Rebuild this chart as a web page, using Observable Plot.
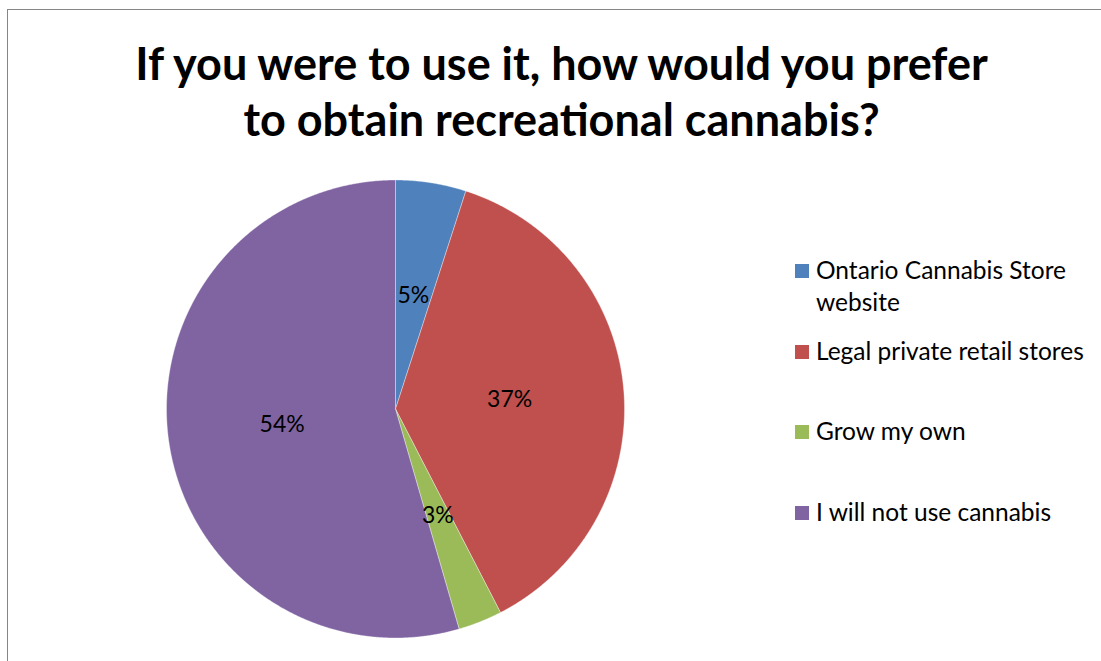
<!DOCTYPE html>
<html><head><meta charset="utf-8">
<script src="https://cdn.jsdelivr.net/npm/d3@7"></script>
<script src="https://cdn.jsdelivr.net/npm/@observablehq/plot@0.6"></script>
<style>
body{margin:0;background:#fff;}
#wrap{position:relative;width:1101px;height:661px;overflow:hidden;font-family:Lato,"Open Sans",sans-serif;color:#000;}
#frame{position:absolute;left:7px;top:9px;width:1200px;height:800px;border-top:1px solid #868686;border-left:1px solid #868686;}
#chart{position:absolute;left:0;top:0;}
#title{position:absolute;left:0;width:1123px;top:35px;text-align:center;font-weight:bold;font-size:45px;line-height:56px;}
.item{position:absolute;left:795px;}
.sw{position:absolute;left:0;top:0;width:14px;height:14px;}
.lt{position:absolute;left:21px;top:-10px;width:285px;font-size:24.5px;line-height:32px;}
</style></head>
<body>
<div id="wrap">
  <div id="frame"></div>
  <div id="chart"></div>
  <div id="title">If you were to use it, how would you prefer<br>to obtain recreational cannabis?</div>
  <div id="legend"></div>
</div>
<script>
const categories = ["Ontario Cannabis Store website", "Legal private retail stores", "Grow my own", "I will not use cannabis"];
const shares = [4.97, 37.45, 3.1, 54.48];
const colors = ["#4F81BD", "#C0504D", "#9BBB59", "#8064A2"];

const arcs = d3.pie().sort(null).value(d => d)(shares);

// slice outlines (geometry of each wedge in unit-circle coordinates)
const wedgePts = [];
arcs.forEach((a, i) => {
  const n = Math.max(2, Math.ceil((a.endAngle - a.startAngle) / (Math.PI / 720)));
  wedgePts.push({key: categories[i], x: 0, y: 0});
  for (let k = 0; k <= n; k++) {
    const t = a.startAngle + (a.endAngle - a.startAngle) * k / n;
    wedgePts.push({key: categories[i], x: Math.sin(t), y: Math.cos(t)});
  }
  wedgePts.push({key: categories[i], x: 0, y: 0});
});

const labels = arcs.map((a, i) => {
  const m = (a.startAngle + a.endAngle) / 2;
  return {x: 0.5 * Math.sin(m), y: 0.5 * Math.cos(m), text: Math.round(shares[i]) + "%"};
});

const chart = Plot.plot({
  width: 1101, height: 661,
  marginLeft: 166, marginRight: 477, marginTop: 179.5, marginBottom: 23.5,
  x: {domain: [-1, 1], axis: null},
  y: {domain: [-1, 1], axis: null},
  color: {domain: categories, range: colors},
  style: {fontFamily: "Lato, 'Open Sans', sans-serif", background: "transparent"},
  marks: [
    Plot.line(wedgePts, {x: "x", y: "y", z: "key", fill: "key", stroke: "#ffffff", strokeWidth: 0.6, strokeOpacity: 0.6}),
    Plot.text(labels, {x: "x", y: "y", text: "text", fontSize: 23, fill: "#000"})
  ]
});
document.getElementById("chart").appendChild(chart);

const legend = document.getElementById("legend");
categories.forEach((c, i) => {
  const item = document.createElement("div");
  item.className = "item";
  item.style.top = (264 + i * 80.7) + "px";
  item.innerHTML = `<div class="sw" style="background:${colors[i]}"></div><div class="lt"></div>`;
  item.querySelector(".lt").textContent = c;
  legend.appendChild(item);
});
</script>
</body></html>
